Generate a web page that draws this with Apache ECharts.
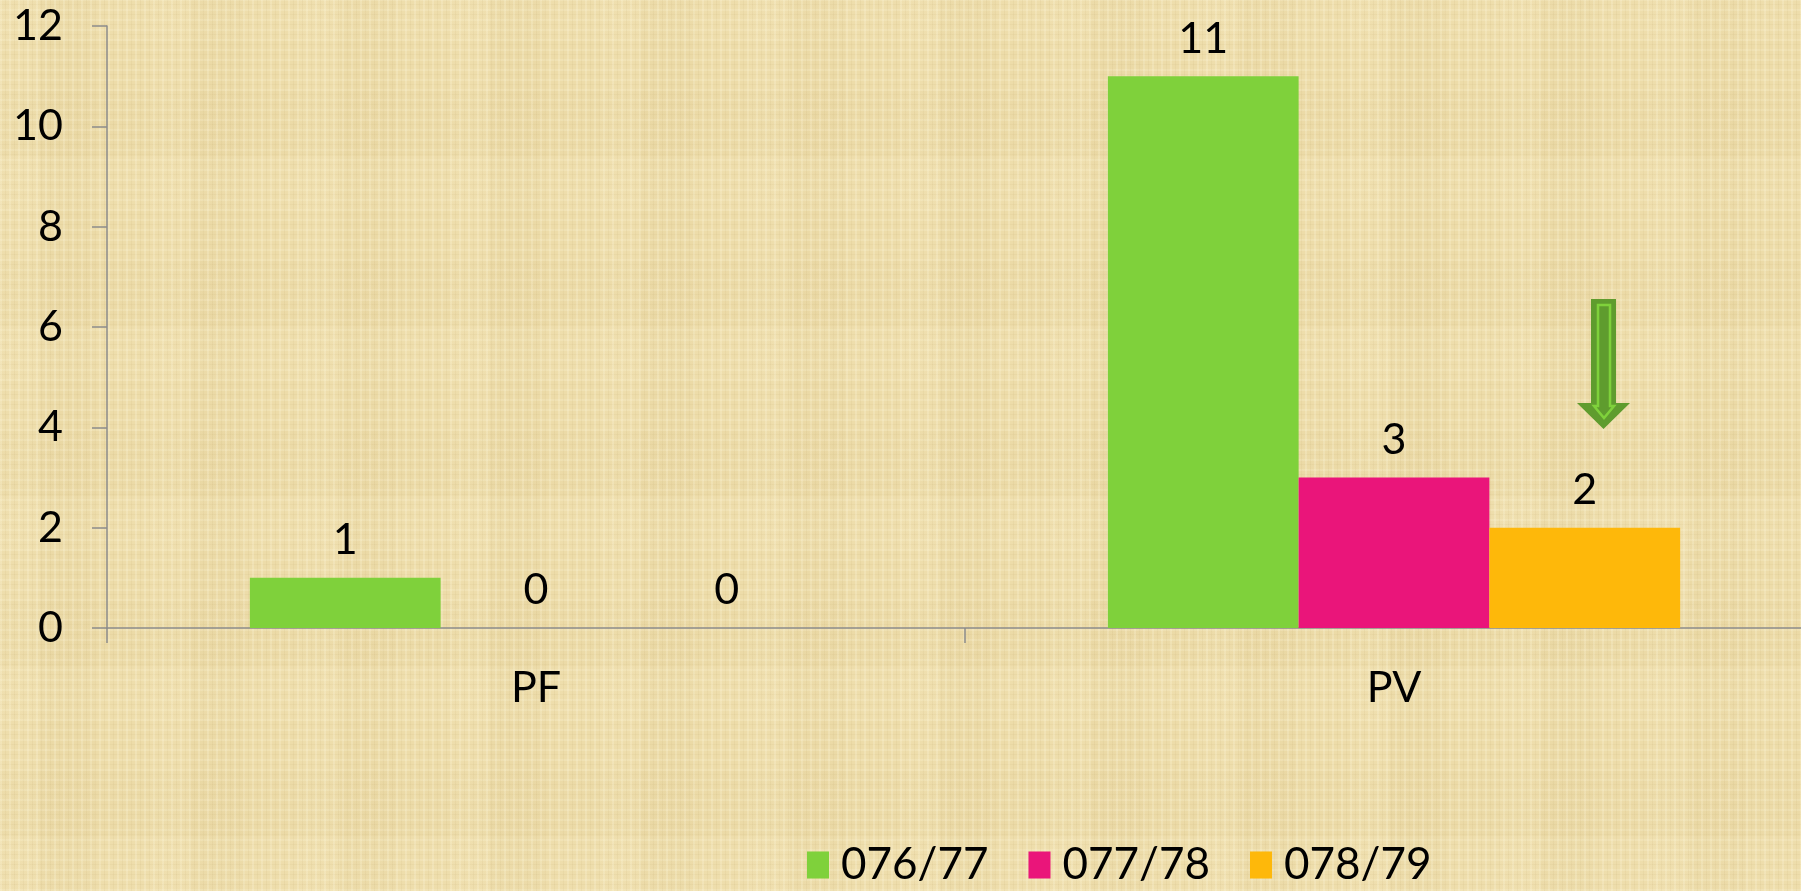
<!DOCTYPE html>
<html>
<head>
<meta charset="utf-8">
<title>PF / PV</title>
<script src="https://cdn.jsdelivr.net/npm/echarts@6/dist/echarts.min.js"></script>
<style>
  html, body { margin: 0; padding: 0; width: 1801px; height: 891px; overflow: hidden; }
  body {
    background-color: #eddca9;
    background-image:
      repeating-linear-gradient(90deg, rgba(255,250,225,0.22) 0 2px, rgba(0,0,0,0) 2px 5px, rgba(190,165,105,0.10) 5px 6px, rgba(0,0,0,0) 6px 9px),
      repeating-linear-gradient(0deg, rgba(255,250,225,0.18) 0 2px, rgba(0,0,0,0) 2px 6px, rgba(190,165,105,0.09) 6px 7px, rgba(0,0,0,0) 7px 10px),
      repeating-linear-gradient(90deg, rgba(255,245,215,0.06) 0 40px, rgba(200,175,115,0.05) 40px 95px, rgba(0,0,0,0) 95px 150px),
      repeating-linear-gradient(0deg, rgba(255,245,215,0.06) 0 55px, rgba(200,175,115,0.04) 55px 120px, rgba(0,0,0,0) 120px 170px);
  }
  /* the plot runs slightly past the right edge of the window */
  #chart { width: 1845px; height: 891px; }
</style>
</head>
<body>
<div id="chart"></div>
<script>
// Categories and yearly counts
const categories = ['PF', 'PV'];
const seriesNames = ['076/77', '077/78', '078/79'];
const values076_77 = [1, 11];
const values077_78 = [0, 3];
const values078_79 = [0, 2];
const yTicks = { min: 0, max: 12, interval: 2 };

const colors = ['#7fd13b', '#ea157a', '#feb80a'];
const FONT = 'Lato';
const FONT_SIZE = 43;
const axisGrey = '#8c8c8c';

const chart = echarts.init(document.getElementById('chart'), null, { renderer: 'canvas' });

function barSeries(name, data, color) {
  return {
    name: name,
    type: 'bar',
    data: data,
    barGap: '0%',
    barCategoryGap: '33.3%',
    itemStyle: { color: color },
    label: {
      show: true,
      position: 'top',
      distance: 16,
      color: '#000',
      fontFamily: FONT,
      fontSize: FONT_SIZE
    }
  };
}

chart.setOption({
  backgroundColor: 'transparent',
  animation: false,
  color: colors,
  grid: { left: 107, right: 22, top: 26, bottom: 263, containLabel: false },
  legend: {
    left: 802,
    top: 838,
    icon: 'rect',
    itemWidth: 22,
    itemHeight: 27,
    itemGap: 40,
    textStyle: { fontFamily: FONT, fontSize: 44, color: '#000', padding: [0, 0, 0, 7] },
    data: seriesNames
  },
  xAxis: {
    type: 'category',
    data: categories,
    axisLine: { lineStyle: { color: axisGrey, width: 1.5 } },
    axisTick: { show: true, length: 15, lineStyle: { color: axisGrey, width: 1.5 } },
    axisLabel: { margin: 39, color: '#000', fontFamily: FONT, fontSize: FONT_SIZE },
    splitLine: { show: false }
  },
  yAxis: {
    type: 'value',
    min: yTicks.min,
    max: yTicks.max,
    interval: yTicks.interval,
    axisLine: { show: true, lineStyle: { color: axisGrey, width: 1.5 } },
    axisTick: { show: true, length: 15, lineStyle: { color: axisGrey, width: 1.5 } },
    axisLabel: { margin: 44, color: '#000', fontFamily: FONT, fontSize: FONT_SIZE },
    splitLine: { show: false }
  },
  series: [
    barSeries(seriesNames[0], values076_77, colors[0]),
    barSeries(seriesNames[1], values077_78, colors[1]),
    barSeries(seriesNames[2], values078_79, colors[2])
  ],
  // Down arrow callout above the latest PV bar
  graphic: [
    {
      type: 'polygon',
      z: 100,
      shape: {
        points: [[1591, 299], [1616, 299], [1616, 403], [1630, 403], [1603.5, 429], [1577, 403], [1591, 403]]
      },
      style: { fill: '#5f9c2e' }
    },
    {
      type: 'polygon',
      z: 101,
      shape: {
        points: [[1598, 305], [1610, 305], [1610, 406], [1614, 406], [1604, 418], [1594, 406], [1598, 406]]
      },
      style: { fill: '#5f9c2e', stroke: '#7fd13b', lineWidth: 2.5 }
    }
  ]
});
</script>
</body>
</html>
